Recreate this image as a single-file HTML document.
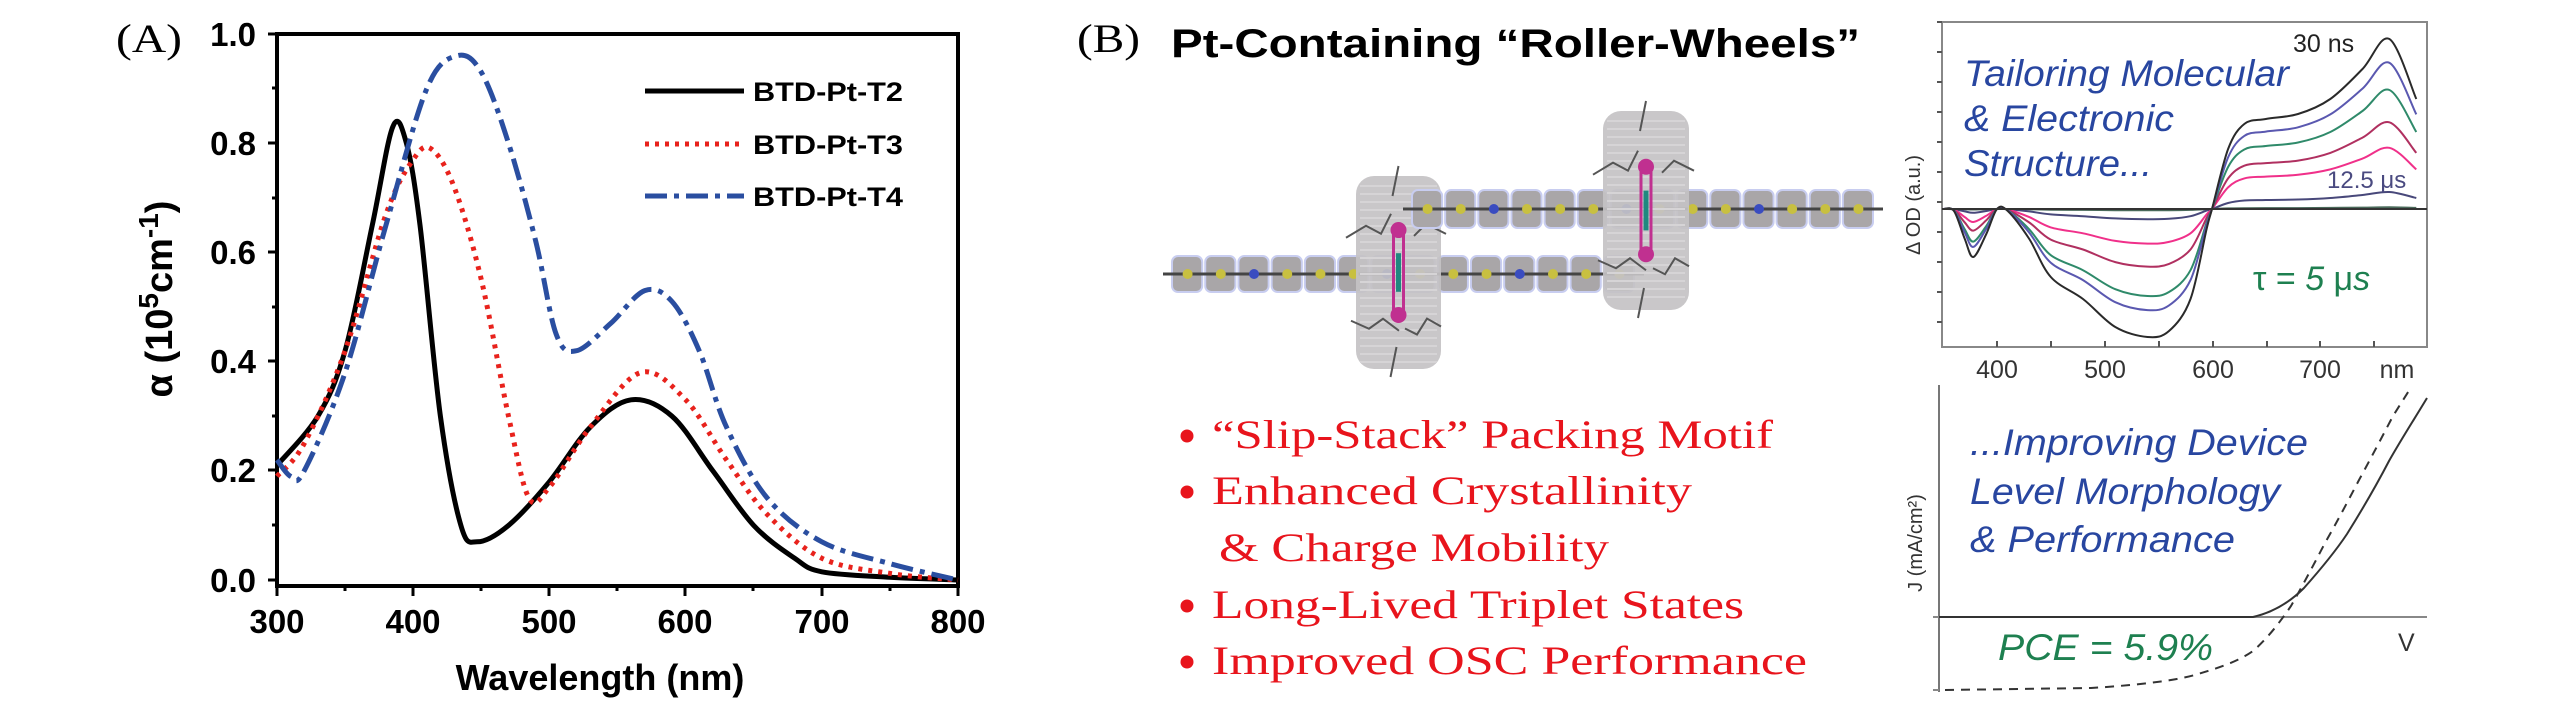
<!DOCTYPE html>
<html><head><meta charset="utf-8"><style>
html,body{margin:0;padding:0;background:#fff;width:2567px;height:709px;overflow:hidden}
svg{display:block}
.b{font-family:"Liberation Sans",sans-serif;font-weight:bold}
.s{font-family:"Liberation Serif",serif}
.i{font-family:"Liberation Sans",sans-serif;font-style:italic}
</style></head><body>
<svg id="sv" width="2567" height="709" viewBox="0 0 2567 709" xmlns="http://www.w3.org/2000/svg">
<!-- Panel A -->
<text x="116" y="52" class="s" font-size="40" textLength="66" lengthAdjust="spacingAndGlyphs">(A)</text>
<rect x="277" y="34" width="681" height="552" fill="none" stroke="#000" stroke-width="4"/>
<g stroke="#000" stroke-width="3">
<line x1="268" y1="580" x2="277" y2="580"/><line x1="268" y1="470" x2="277" y2="470"/><line x1="268" y1="361" x2="277" y2="361"/><line x1="268" y1="252" x2="277" y2="252"/><line x1="268" y1="143" x2="277" y2="143"/><line x1="268" y1="34" x2="277" y2="34"/>
<line x1="272" y1="525" x2="277" y2="525"/><line x1="272" y1="416" x2="277" y2="416"/><line x1="272" y1="307" x2="277" y2="307"/><line x1="272" y1="198" x2="277" y2="198"/><line x1="272" y1="88" x2="277" y2="88"/>
<line x1="277" y1="586" x2="277" y2="596"/><line x1="345" y1="586" x2="345" y2="591"/><line x1="413" y1="586" x2="413" y2="596"/><line x1="481" y1="586" x2="481" y2="591"/><line x1="549" y1="586" x2="549" y2="596"/><line x1="617" y1="586" x2="617" y2="591"/><line x1="685" y1="586" x2="685" y2="596"/><line x1="753" y1="586" x2="753" y2="591"/><line x1="822" y1="586" x2="822" y2="596"/><line x1="890" y1="586" x2="890" y2="591"/><line x1="958" y1="586" x2="958" y2="596"/>
</g>
<g class="b" font-size="33" text-anchor="end">
<text x="256" y="592">0.0</text><text x="256" y="482">0.2</text><text x="256" y="373">0.4</text><text x="256" y="264">0.6</text><text x="256" y="155">0.8</text><text x="256" y="46">1.0</text>
</g>
<g class="b" font-size="33" text-anchor="middle">
<text x="277" y="633">300</text><text x="413" y="633">400</text><text x="549" y="633">500</text><text x="685" y="633">600</text><text x="822" y="633">700</text><text x="958" y="633">800</text>
</g>
<text x="600" y="690" class="b" font-size="36" text-anchor="middle">Wavelength (nm)</text>
<text transform="translate(172,299) rotate(-90)" class="b" font-size="38" text-anchor="middle">α (10<tspan font-size="28" dy="-14">5</tspan><tspan dy="14">cm</tspan><tspan font-size="28" dy="-14">-1</tspan><tspan dy="14">)</tspan></text>
<line x1="645" y1="91" x2="744" y2="91" stroke="#000" stroke-width="5"/>
<line x1="645" y1="144" x2="744" y2="144" stroke="#e8221c" stroke-width="5" stroke-dasharray="4 6"/>
<line x1="645" y1="196" x2="744" y2="196" stroke="#2a4ea0" stroke-width="5" stroke-dasharray="22 7 5 7"/>
<g class="b" font-size="27">
<text x="753" y="101" textLength="150" lengthAdjust="spacingAndGlyphs">BTD-Pt-T2</text>
<text x="753" y="154" textLength="150" lengthAdjust="spacingAndGlyphs">BTD-Pt-T3</text>
<text x="753" y="206" textLength="150" lengthAdjust="spacingAndGlyphs">BTD-Pt-T4</text>
</g>
<path id="t2" fill="none" stroke="#000" stroke-width="5"/>
<path id="t3" fill="none" stroke="#e8221c" stroke-width="5" stroke-dasharray="4 6"/>
<path id="t4" fill="none" stroke="#2a4ea0" stroke-width="5" stroke-dasharray="22 7 5 7"/>

<!-- Panel B -->
<text x="1077" y="52" class="s" font-size="40" textLength="63" lengthAdjust="spacingAndGlyphs">(B)</text>
<text x="1171" y="57" class="b" font-size="40" textLength="689" lengthAdjust="spacingAndGlyphs">Pt-Containing “Roller-Wheels”</text>
<g id="mol"></g>
<g class="s" font-size="40" fill="#e8141c">
<circle cx="1187" cy="436" r="6.5"/><circle cx="1187" cy="492" r="6.5"/><circle cx="1187" cy="606" r="6.5"/><circle cx="1187" cy="662" r="6.5"/>
<text x="1212" y="448" textLength="561" lengthAdjust="spacingAndGlyphs">“Slip-Stack” Packing Motif</text>
<text x="1212" y="504" textLength="480" lengthAdjust="spacingAndGlyphs">Enhanced Crystallinity</text>
<text x="1219" y="561" textLength="390" lengthAdjust="spacingAndGlyphs">&amp; Charge Mobility</text>
<text x="1212" y="618" textLength="532" lengthAdjust="spacingAndGlyphs">Long-Lived Triplet States</text>
<text x="1212" y="674" textLength="595" lengthAdjust="spacingAndGlyphs">Improved OSC Performance</text>
</g>

<!-- right top -->
<rect x="1942" y="22" width="485" height="325" fill="none" stroke="#888" stroke-width="2"/>
<g stroke="#555" stroke-width="2" id="tk"></g>
<g id="spec"></g>
<line x1="1942" y1="209" x2="2427" y2="209" stroke="#333" stroke-width="2"/>
<g font-family="Liberation Sans,sans-serif" font-size="25" fill="#333" text-anchor="middle">
<text x="1997" y="378">400</text><text x="2105" y="378">500</text><text x="2213" y="378">600</text><text x="2320" y="378">700</text><text x="2397" y="378">nm</text>
</g>
<text transform="translate(1920,205) rotate(-90)" font-family="Liberation Sans,sans-serif" font-size="20" fill="#333" text-anchor="middle">Δ OD (a.u.)</text>
<g class="i" font-size="37" fill="#2846a0">
<text x="1964" y="86" textLength="325" lengthAdjust="spacingAndGlyphs">Tailoring Molecular</text>
<text x="1964" y="131" textLength="210" lengthAdjust="spacingAndGlyphs">&amp; Electronic</text>
<text x="1964" y="176" textLength="188" lengthAdjust="spacingAndGlyphs">Structure...</text>
</g>
<text x="2293" y="52" font-family="Liberation Sans,sans-serif" font-size="25" fill="#222">30 ns</text>
<text x="2327" y="188" font-family="Liberation Sans,sans-serif" font-size="24" fill="#4a4a80">12.5 μs</text>
<text x="2253" y="290" font-family="Liberation Sans,sans-serif" font-size="34" fill="#1e8050">τ = <tspan font-style="italic">5</tspan> μ<tspan font-style="italic">s</tspan></text>

<!-- right bottom -->
<line x1="1939" y1="385" x2="1939" y2="692" stroke="#777" stroke-width="2"/>
<line x1="1939" y1="617" x2="2427" y2="617" stroke="#888" stroke-width="2"/>
<g stroke="#888" stroke-width="2"><line x1="1933" y1="617" x2="1939" y2="617"/><line x1="1933" y1="690" x2="1939" y2="690"/></g>
<text transform="translate(1922,543) rotate(-90)" font-family="Liberation Sans,sans-serif" font-size="20" fill="#333" text-anchor="middle">J (mA/cm²)</text>
<g class="i" font-size="37" fill="#2846a0">
<text x="1970" y="455" textLength="338" lengthAdjust="spacingAndGlyphs">...Improving Device</text>
<text x="1970" y="504" textLength="310" lengthAdjust="spacingAndGlyphs">Level Morphology</text>
<text x="1970" y="552" textLength="265" lengthAdjust="spacingAndGlyphs">&amp; Performance</text>
</g>
<text x="1998" y="660" class="i" font-size="37" fill="#1e8050" textLength="215" lengthAdjust="spacingAndGlyphs">PCE = 5.9%</text>
<text x="2398" y="651" font-family="Liberation Sans,sans-serif" font-size="25" fill="#333">V</text>
<path d="M1939,617 L2253,617 C2275,612 2292,600 2304,588 C2320,570 2335,552 2347,534 C2362,510 2376,486 2389,461 C2402,438 2415,418 2427,398" fill="none" stroke="#333" stroke-width="2"/>
<path d="M1945,690 L2091,688 C2140,685 2180,680 2198,674 C2225,666 2240,660 2253,651 C2268,638 2280,622 2291,606 C2303,585 2314,564 2325,543 C2337,522 2348,501 2359,480 C2371,458 2382,437 2393,416 L2410,389" fill="none" stroke="#333" stroke-width="2" stroke-dasharray="9 7"/>
</svg>
<script>
var NS="http://www.w3.org/2000/svg";
function cr(p){var d="M"+p[0][0].toFixed(1)+","+p[0][1].toFixed(1);
for(var i=0;i<p.length-1;i++){var p0=p[i-1]||p[i],p1=p[i],p2=p[i+1],p3=p[i+2]||p2;
d+=" C"+(p1[0]+(p2[0]-p0[0])/6).toFixed(1)+","+(p1[1]+(p2[1]-p0[1])/6).toFixed(1)+" "+(p2[0]-(p3[0]-p1[0])/6).toFixed(1)+","+(p2[1]-(p3[1]-p1[1])/6).toFixed(1)+" "+p2[0].toFixed(1)+","+p2[1].toFixed(1);}return d;}
function A(a){return a.map(function(q){return [277+(q[0]-300)*1.362,580-q[1]*546];});}
document.getElementById("t2").setAttribute("d",cr(A([[300,0.21],[330,0.3],[350,0.42],[370,0.65],[385,0.83],[395,0.8],[405,0.65],[420,0.3],[435,0.1],[447,0.07],[470,0.1],[500,0.18],[530,0.28],[560,0.33],[590,0.3],[620,0.2],[650,0.1],[680,0.04],[700,0.015],[750,0.005],[800,0]])));
document.getElementById("t3").setAttribute("d",cr(A([[300,0.19],[320,0.25],[350,0.42],[380,0.67],[400,0.77],[413,0.79],[430,0.72],[450,0.55],[470,0.3],[485,0.15],[500,0.17],[530,0.28],[567,0.38],[600,0.33],[630,0.22],[660,0.12],[700,0.04],[750,0.012],[800,0]])));
document.getElementById("t4").setAttribute("d",cr(A([[300,0.22],[310,0.19],[320,0.2],[350,0.38],[380,0.65],[410,0.9],[432,0.96],[450,0.93],[470,0.8],[490,0.62],[505,0.45],[520,0.42],[545,0.47],[570,0.53],[590,0.51],[610,0.42],[630,0.28],[660,0.15],[700,0.07],[750,0.03],[800,0]])));
var base=[[350,0],[360,2],[370,30],[378,48],[390,25],[400,0],[410,2],[430,30],[450,68],[480,90],[510,118],[540,128],[560,122],[580,90],[595,20],[600,0],[615,-60],[630,-85],[650,-90],[680,-95],[710,-110],[740,-140],[765,-170],[790,-110]];
var sets=[["#2a2a2a",1,1],["#5a58b0",0.79,0.86],["#2f8a6a",0.68,0.7],["#b03060",0.45,0.51],["#f0308a",0.27,0.36],["#48487a",0.08,0.1],["#4a6a5a",0.01,0.01]];
var sp=document.getElementById("spec");
sets.slice().reverse().forEach(function(s){var pts=base.map(function(q){var v=q[1]>0?q[1]*s[1]:q[1]*s[2];return [1997+(q[0]-400)*1.075,209+v];});
var e=document.createElementNS(NS,"path");e.setAttribute("d",cr(pts));e.setAttribute("fill","none");e.setAttribute("stroke",s[0]);e.setAttribute("stroke-width","2");sp.appendChild(e);});
var tk=document.getElementById("tk");
for(var y=22;y<=347;y+=30){var l=document.createElementNS(NS,"line");l.setAttribute("x1",1937);l.setAttribute("x2",1942);l.setAttribute("y1",y);l.setAttribute("y2",y);tk.appendChild(l);}
[1997,2105,2213,2320,2051,2159,2267,2374].forEach(function(x){var l=document.createElementNS(NS,"line");l.setAttribute("x1",x);l.setAttribute("x2",x);l.setAttribute("y1",347);l.setAttribute("y2",341);tk.appendChild(l);});
var m=document.getElementById("mol"),h="";
function chain(x0,x1,y,hgt){var n=Math.round((x1-x0)/34);var w=(x1-x0)/n;for(var i=0;i<n;i++){h+='<rect x="'+(x0+i*w+1)+'" y="'+y+'" width="'+(w-3)+'" height="'+hgt+'" rx="6" fill="#a9a6a8" stroke="#c8cdf0" stroke-width="2"/>';}
h+='<path d="M'+(x0-8)+','+(y+hgt/2)+' L'+(x1+8)+','+(y+hgt/2)+'" stroke="#444" stroke-width="3"/>';
for(var j=0;j<n;j++){var cx=x0+j*w+w/2;h+='<circle cx="'+cx+'" cy="'+(y+hgt/2)+'" r="5" fill="'+(j%4==2?'#3a4cc0':'#c8c040')+'"/>';}}
function wheel(x,y,w,hh){h+='<rect x="'+x+'" y="'+y+'" width="'+w+'" height="'+hh+'" rx="18" fill="#c4c2c4" opacity="0.92"/>';
for(var k=y+10;k<y+hh-5;k+=8){h+='<line x1="'+(x+4)+'" x2="'+(x+w-4)+'" y1="'+k+'" y2="'+k+'" stroke="#d6d4d6" stroke-width="2"/>';}
var cx=x+w/2;h+='<line x1="'+(cx-5)+'" x2="'+(cx-5)+'" y1="'+(y+hh*0.28)+'" y2="'+(y+hh*0.72)+'" stroke="#c03090" stroke-width="3"/><line x1="'+(cx+5)+'" x2="'+(cx+5)+'" y1="'+(y+hh*0.28)+'" y2="'+(y+hh*0.72)+'" stroke="#c03090" stroke-width="3"/>';
h+='<circle cx="'+cx+'" cy="'+(y+hh*0.28)+'" r="8" fill="#c03090"/><circle cx="'+cx+'" cy="'+(y+hh*0.72)+'" r="8" fill="#c03090"/><line x1="'+cx+'" x2="'+cx+'" y1="'+(y+hh*0.4)+'" y2="'+(y+hh*0.6)+'" stroke="#208880" stroke-width="5"/>';
h+='<path d="M'+(x-10)+','+(y+hh*0.32)+' l20,-12 l15,8 l10,-20 M'+(x+w+5)+','+(y+hh*0.3)+' l-20,-10 l-12,12 M'+(x-5)+','+(y+hh*0.75)+' l18,8 l14,-10 l16,12 M'+(x+w)+','+(y+hh*0.78)+' l-14,-8 l-10,16 l-12,-6 M'+cx+','+(y-10)+' l-6,30 M'+(cx-8)+','+(y+hh+8)+' l6,-30" stroke="#555" stroke-width="2" fill="none"/>';}
chain(1171,1636,256,36);
wheel(1356,176,85,193);
chain(1411,1875,190,38);
wheel(1603,111,86,199);
m.innerHTML=h;
</script>
</body></html>
